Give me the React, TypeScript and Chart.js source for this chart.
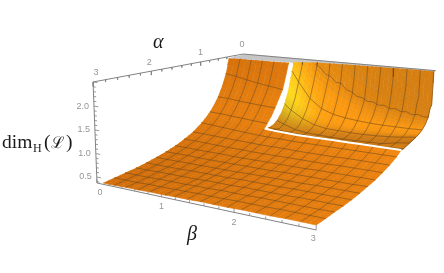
import React, { useEffect, useRef } from "react";
import { Chart, registerables } from "chart.js";

Chart.register(...registerables);

const zBottom = 0.37;
const zTop = 2.5;

const betaColumns = [0.1, 0.281, 0.4625, 0.644, 0.825, 1.05, 1.1875, 1.369, 1.55, 1.731, 1.912, 2.094, 2.275, 2.456, 2.638, 2.819, 3];
const frontAlphas = [1, 1.125, 1.3125, 1.5, 1.6875, 1.875, 2.0625, 2.25, 2.4375, 2.625, 2.8125, 3];
const frontZ = [
  [1.2, 1.18, 1.15, 1.13, 1.11, 1.09, 1.07, 1.06, 1.05, 1.05, 1.05, 1.05, 1.05, 1.05, 1.05, 1.05, 1.05],
  [1.07, 1.05, 1.03, 1.01, 0.99, 0.97, 0.96, 0.96, 0.95, 0.95, 0.95, 0.95, 0.95, 0.95, 0.95, 0.95, 0.95],
  [0.91, 0.9, 0.89, 0.88, 0.87, 0.86, 0.85, 0.85, 0.85, 0.84, 0.84, 0.84, 0.84, 0.85, 0.85, 0.85, 0.85],
  [0.8, 0.8, 0.79, 0.78, 0.77, 0.77, 0.76, 0.76, 0.76, 0.76, 0.76, 0.76, 0.76, 0.77, 0.77, 0.77, 0.77],
  [0.71, 0.71, 0.7, 0.7, 0.7, 0.69, 0.69, 0.69, 0.69, 0.69, 0.69, 0.69, 0.7, 0.7, 0.7, 0.7, 0.7],
  [0.64, 0.64, 0.64, 0.63, 0.63, 0.63, 0.63, 0.63, 0.63, 0.63, 0.64, 0.64, 0.64, 0.64, 0.64, 0.64, 0.65],
  [0.58, 0.58, 0.58, 0.58, 0.58, 0.58, 0.58, 0.58, 0.59, 0.59, 0.59, 0.59, 0.59, 0.6, 0.6, 0.6, 0.6],
  [0.53, 0.53, 0.53, 0.53, 0.54, 0.54, 0.54, 0.54, 0.55, 0.55, 0.55, 0.55, 0.56, 0.56, 0.56, 0.56, 0.56],
  [0.49, 0.49, 0.5, 0.5, 0.5, 0.5, 0.51, 0.51, 0.51, 0.52, 0.52, 0.52, 0.52, 0.53, 0.53, 0.53, 0.53],
  [0.46, 0.46, 0.46, 0.47, 0.47, 0.47, 0.48, 0.48, 0.49, 0.49, 0.49, 0.5, 0.5, 0.5, 0.5, 0.5, 0.51],
  [0.43, 0.43, 0.43, 0.44, 0.44, 0.45, 0.45, 0.46, 0.46, 0.46, 0.47, 0.47, 0.47, 0.48, 0.48, 0.48, 0.48],
  [0.4, 0.4, 0.41, 0.41, 0.42, 0.42, 0.43, 0.43, 0.44, 0.44, 0.44, 0.45, 0.45, 0.45, 0.46, 0.46, 0.46],
];
const frontMesh = [false, true, true, true, true, true, true, true, true, true, true, false];

const wallBetas = [0.1, 0.281, 0.4625, 0.644, 0.825, 1.05];
const wallAlphas = [0.375, 0.47, 0.5625, 0.65, 0.75, 0.84, 0.9375, 1];
const wallZ = [
  [3.2, 3.12, 2.98, 2.88, 2.8, 2.68],
  [2.55, 2.5, 2.43, 2.37, 2.32, 2.26],
  [2.13, 2.09, 2.03, 1.98, 1.94, 1.89],
  [1.85, 1.83, 1.79, 1.76, 1.73, 1.71],
  [1.6, 1.59, 1.56, 1.54, 1.52, 1.5],
  [1.43, 1.42, 1.39, 1.37, 1.35, 1.33],
  [1.28, 1.27, 1.25, 1.23, 1.21, 1.19],
  [1.2, 1.18, 1.15, 1.13, 1.11, 1.09],
];
const wallMesh = [true, false, true, false, true, false, true, false];

const backBetas = [1.08, 1.1875, 1.369, 1.55, 1.731, 1.912, 2.094, 2.275, 2.456, 2.638, 2.819, 3];
const backAlphas = [0.04, 0.06, 0.09, 0.14, 0.1875, 0.28, 0.375, 0.47, 0.5625, 0.65, 0.75, 0.85, 0.9375, 0.97];
const backZ = [
  [9, 8, 7, 6, 5.5, 5, 4.6, 4.2, 3.8, 3.4, 3.1, 2.9],
  [7, 6, 5, 4.5, 4, 3.7, 3.4, 3.2, 3, 2.8, 2.6, 2.5],
  [6, 5, 4, 3.6, 3.2, 2.95, 2.8, 2.5, 2.3, 2.1, 1.9, 1.75],
  [4.2, 3.8, 3.1, 2.75, 2.5, 2.25, 2.1, 2, 1.9, 1.82, 1.75, 1.68],
  [3.4, 3.05, 2.46, 2.2, 2.04, 1.83, 1.73, 1.66, 1.6, 1.56, 1.53, 1.5],
  [2.8, 2.45, 2.05, 1.82, 1.66, 1.55, 1.48, 1.43, 1.4, 1.37, 1.36, 1.36],
  [2.3, 2.05, 1.68, 1.47, 1.37, 1.32, 1.29, 1.27, 1.26, 1.26, 1.26, 1.27],
  [1.85, 1.66, 1.42, 1.28, 1.21, 1.18, 1.16, 1.15, 1.15, 1.16, 1.18, 1.21],
  [1.55, 1.42, 1.25, 1.14, 1.09, 1.08, 1.07, 1.07, 1.08, 1.1, 1.13, 1.17],
  [1.35, 1.25, 1.13, 1.06, 1.03, 1.02, 1.02, 1.02, 1.03, 1.05, 1.09, 1.14],
  [1.21, 1.14, 1.05, 1.01, 1, 0.99, 0.99, 0.99, 1, 1.01, 1.07, 1.11],
  [1.13, 1.07, 1.03, 1, 1, 1, 1, 1, 1.01, 1.03, 1.05, 1.08],
  [1.1, 1.08, 1.05, 1.04, 1.03, 1.03, 1.03, 1.03, 1.03, 1.03, 1.04, 1.05],
  [1.1, 1.09, 1.06, 1.05, 1.05, 1.05, 1.05, 1.05, 1.05, 1.05, 1.05, 1.06],
];
const backMesh = [false, false, false, false, false, false, true, false, true, false, true, false, true, false];

// the uneven mesh line at alpha = 0.1875, read point by point
const wavyAlpha = 0.1875;
const wavyBetas = [1.34, 1.42, 1.5, 1.58, 1.66, 1.74, 1.82, 1.9, 1.98, 2.06, 2.14, 2.22, 2.3, 2.38, 2.46, 2.54, 2.62, 2.7, 2.78, 2.86, 2.94, 3];
const wavyZ = [2.46, 2.38, 2.24, 2.2, 2.07, 2.06, 1.92, 1.88, 1.79, 1.77, 1.7, 1.7, 1.64, 1.65, 1.59, 1.6, 1.55, 1.56, 1.51, 1.53, 1.49, 1.5];

const clipBetas = [0.1, 1.05, 1.369, 1.731, 2.275, 3];
const clipAlphas = [0.48, 0.34, 0.2, 0.15, 0.1, 0.05];

const alphaTicks = [3, 2, 1, 0];
const betaTicks = [0, 1, 2, 3];
const zTicks = [0.5, 1, 1.5, 2];

// brightness of the rear sheet, read by eye for each row of backAlphas
const backLevels = [0.36, 0.36, 0.36, 0.36, 0.42, 0.72, 1, 0.85, 0.4, 0.18, 0.18, 0.25, 0.35, 0.35];

type P = { x: number; y: number };
type V = [number, number, number];
type C = [number, number, number];

function project(alpha: number, beta: number, z: number): P {
  const a = (3 - alpha) / 3;
  const b = beta / 3;
  const h = (z - zBottom) / (zTop - zBottom);
  const d = 1 + 0.263 * a - 0.165 * b - 0.023 * h;
  return {
    x: (97 + 210.4 * a + 167 * b - 6.1 * h) / d,
    y: (183 - 13.1 * a + 9 * b - 102.9 * h) / d,
  };
}

function clipPoly(vs: V[]): V[] {
  const out: V[] = [];
  for (let i = 0; i < vs.length; i++) {
    const p = vs[i];
    const q = vs[(i + 1) % vs.length];
    if (p[2] <= zTop) out.push(p);
    if (p[2] <= zTop !== q[2] <= zTop) {
      const t = (zTop - p[2]) / (q[2] - p[2]);
      out.push([p[0] + t * (q[0] - p[0]), p[1] + t * (q[1] - p[1]), zTop]);
    }
  }
  return out;
}

function clipLine(vs: V[]): V[] {
  const out: V[] = [];
  for (let i = 0; i < vs.length; i++) {
    const p = vs[i];
    if (p[2] <= zTop) out.push(p);
    const q = vs[i + 1];
    if (q && p[2] <= zTop !== q[2] <= zTop) {
      const t = (zTop - p[2]) / (q[2] - p[2]);
      out.push([p[0] + t * (q[0] - p[0]), p[1] + t * (q[1] - p[1]), zTop]);
    }
  }
  return out;
}

const clamp = (v: number) => Math.max(0, Math.min(1, v));

function shadeAt(kind: string, i: number, alpha: number, beta: number, sa: number): C {
  if (kind === "back") {
    let g = backLevels[i];
    const y = Math.exp(-Math.pow((beta - 1.12) / 0.33, 2)) * Math.exp(-Math.pow((alpha - 0.5) / 0.2, 2));
    const glow = Math.exp(-Math.pow((beta - 1.5) / 0.6, 2)) * Math.exp(-Math.pow((alpha - 0.4) / 0.25, 2));
    g = clamp(g + 0.5 * glow);
    return [192 + 60 * g + 3 * y, 113 + 40 * g + 68 * y, 20 - 4 * g + 12 * y];
  }
  const bump = Math.exp(-Math.pow(Math.log(Math.abs(sa) + 0.01) - Math.log(1.6), 2) / 1.4);
  const g = clamp(kind === "wall" ? 0.05 + 0.3 * (beta / 3) + 0.45 * bump : 0.08 + 0.5 * (beta / 3) + 0.4 * bump);
  return [204 + 46 * g, 106 + 36 * g, 10 + 8 * g];
}

function polyDataset(vs: V[], color: string) {
  return {
    data: vs.map((v) => project(v[0], v[1], v[2])),
    showLine: true,
    fill: "shape",
    backgroundColor: color,
    borderColor: color,
    borderWidth: 0.7,
    pointRadius: 0,
    tension: 0,
  };
}

function lineDataset(vs: V[], color: string, width: number) {
  return {
    data: vs.map((v) => project(v[0], v[1], v[2])),
    showLine: true,
    fill: false,
    borderColor: color,
    backgroundColor: color,
    borderWidth: width,
    pointRadius: 0,
    tension: 0,
  };
}

// Facets of one sheet; every table cell is drawn as a few facets so that its shading runs smoothly.
function surfaceCells(kind: string, alphas: number[], betas: number[], table: number[][], parts: number) {
  const n = alphas.length;
  const m = betas.length;
  const vertexColor: C[][] = [];
  for (let i = 0; i < n; i++) {
    vertexColor.push([]);
    for (let j = 0; j < m; j++) {
      const i0 = Math.max(0, i - 1);
      const i1 = Math.min(n - 1, i + 1);
      const sa = (table[i0][j] - table[i1][j]) / (alphas[i1] - alphas[i0]);
      vertexColor[i].push(shadeAt(kind, i, alphas[i], betas[j], sa));
    }
  }
  const out: any[] = [];
  const mix = (p: number, q: number, u: number) => p + (q - p) * u;
  for (let i = 0; i < n - 1; i++) {
    for (let j = 0; j < m - 1; j++) {
      for (let s = 0; s < parts; s++) {
        for (let t = 0; t < parts; t++) {
          const vert = (u: number, w: number): V => [
            mix(alphas[i], alphas[i + 1], u),
            mix(betas[j], betas[j + 1], w),
            mix(mix(table[i][j], table[i][j + 1], w), mix(table[i + 1][j], table[i + 1][j + 1], w), u),
          ];
          const u0 = s / parts;
          const u1 = (s + 1) / parts;
          const w0 = t / parts;
          const w1 = (t + 1) / parts;
          const poly = clipPoly([vert(u0, w0), vert(u0, w1), vert(u1, w1), vert(u1, w0)]);
          if (poly.length < 3) continue;
          const um = (u0 + u1) / 2;
          const wm = (w0 + w1) / 2;
          const c = [0, 1, 2].map((k) =>
            Math.round(mix(mix(vertexColor[i][j][k], vertexColor[i][j + 1][k], wm), mix(vertexColor[i + 1][j][k], vertexColor[i + 1][j + 1][k], wm), um))
          );
          out.push(polyDataset(poly, `rgb(${c[0]},${c[1]},${c[2]})`));
        }
      }
    }
  }
  return out;
}

const meshColor = "rgba(100,68,26,0.62)";

function meshLines(alphas: number[], betas: number[], table: number[][], rows: boolean[], skipCols: number[]) {
  const out: any[] = [];
  alphas.forEach((al, i) => {
    if (!rows[i]) return;
    const pts = clipLine(betas.map((be, j) => [al, be, table[i][j]] as V));
    if (pts.length > 1) out.push(lineDataset(pts, meshColor, 0.85));
  });
  betas.forEach((be, j) => {
    if (skipCols.includes(j)) return;
    const pts = clipLine(alphas.map((al, i) => [al, be, table[i][j]] as V));
    if (pts.length > 1) out.push(lineDataset(pts, meshColor, 0.85));
  });
  return out;
}

function wavyLine() {
  return [lineDataset(wavyBetas.map((be, i) => [wavyAlpha, be, wavyZ[i]] as V), meshColor, 0.85)];
}

function frame() {
  const axisColor = "rgb(130,130,130)";
  const out: any[] = [];
  out.push(lineDataset([[3, 0, zBottom], [3, 0, zTop]], axisColor, 1));
  out.push(lineDataset([[3, 0, zTop], [0, 0, zTop]], axisColor, 1));
  out.push(lineDataset([[3, 0, zBottom], [3, 3, zBottom]], axisColor, 1));
  for (let k = 0; k <= 15; k++) {
    const major = k % 5 === 0;
    const v = k / 5;
    out.push(lineDataset([[3 - v, 0, zTop], [3 - v, 0, zTop - (major ? 0.09 : 0.05)]], axisColor, 0.8));
    out.push(lineDataset([[3, v, zBottom], [3, v, zBottom + (major ? 0.09 : 0.05)]], axisColor, 0.8));
  }
  for (let k = 4; k <= 25; k++) {
    const major = k % 5 === 0;
    out.push(lineDataset([[3, 0, k / 10], [3, major ? 0.07 : 0.04, k / 10]], axisColor, 0.8));
  }
  return out;
}

function topPlane() {
  const verts: V[] = [[0, 0.02, zTop], [0, 3, zTop]];
  for (let i = clipBetas.length - 1; i >= 0; i--) verts.push([clipAlphas[i], clipBetas[i], zTop]);
  return [
    polyDataset(verts, "rgb(198,198,198)"),
    lineDataset([[0, 0, zTop], [0, 3, zTop]], "rgb(130,130,130)", 1),
  ];
}

function gapLines() {
  const front = betaColumns.slice(5).map((be, j) => [1, be, frontZ[0][j + 5]] as V);
  return [lineDataset(front, "#ffffff", 2)];
}

const textPlugin = {
  id: "axisText",
  afterDraw(chart: any) {
    const ctx = chart.ctx;
    const sx = chart.scales.x;
    const sy = chart.scales.y;
    const at = (p: P, dx: number, dy: number) => [sx.getPixelForValue(p.x) + dx, sy.getPixelForValue(p.y) + dy];
    ctx.save();
    ctx.textBaseline = "middle";
    ctx.fillStyle = "rgb(150,150,150)";
    ctx.font = "9px 'Liberation Sans'";
    ctx.textAlign = "center";
    const aOff = [[3, -9], [-2, -9], [0, -9], [-1, -10]];
    alphaTicks.forEach((t, i) => {
      const [x, y] = at(project(t, 0, zTop), aOff[i][0], aOff[i][1]);
      ctx.fillText(String(t), x, y);
    });
    const bOff = [[3, 10], [0, 10], [0, 10], [-3, 9]];
    betaTicks.forEach((t, i) => {
      const [x, y] = at(project(3, t, zBottom), bOff[i][0], bOff[i][1]);
      ctx.fillText(String(t), x, y);
    });
    ctx.textAlign = "right";
    zTicks.forEach((t) => {
      const [x, y] = at(project(3, 0, t), -5, 0);
      ctx.fillText(t.toFixed(1), x, y);
    });
    ctx.fillStyle = "#1a1a1a";
    ctx.textBaseline = "alphabetic";
    ctx.textAlign = "left";
    ctx.font = "italic 20px 'Liberation Serif'";
    ctx.fillText("α", 153, 48);
    ctx.fillText("β", 187, 240);
    ctx.font = "19.5px 'Liberation Serif'";
    ctx.fillText("dim", 2, 148);
    ctx.font = "12px 'Liberation Serif'";
    ctx.fillText("H", 33, 152);
    ctx.font = "19.5px 'Liberation Serif'";
    ctx.fillText("(", 44, 148);
    ctx.font = "16px 'DejaVu Serif'";
    ctx.fillText("ℒ", 51, 148);
    ctx.font = "19.5px 'Liberation Serif'";
    ctx.fillText(")", 66, 148);
    ctx.restore();
  },
};

export default function App() {
  const ref = useRef<HTMLCanvasElement>(null);
  useEffect(() => {
    document.body.style.margin = "0";
    const painted: any[] = [
      ...frame(),
      ...topPlane(),
      ...surfaceCells("back", backAlphas, backBetas, backZ, 3),
      ...meshLines(backAlphas, backBetas, backZ, backMesh, [0]),
      ...wavyLine(),
      ...surfaceCells("wall", wallAlphas, wallBetas, wallZ, 2),
      ...meshLines(wallAlphas, wallBetas, wallZ, wallMesh, [0, 5]),
      ...surfaceCells("front", frontAlphas, betaColumns, frontZ, 2),
      ...meshLines(frontAlphas, betaColumns, frontZ, frontMesh, [0, 16]),
      ...gapLines(),
    ];
    const chart = new Chart(ref.current as HTMLCanvasElement, {
      type: "scatter",
      data: { datasets: painted.reverse() },
      options: {
        responsive: false,
        animation: false,
        events: [],
        layout: { padding: 0 },
        plugins: { legend: { display: false }, tooltip: { enabled: false } },
        scales: {
          x: { type: "linear", display: false, min: 0, max: 444 },
          y: { type: "linear", display: false, min: 0, max: 273, reverse: true },
        },
      },
      plugins: [textPlugin],
    } as any);
    return () => chart.destroy();
  }, []);
  return (
    <div style={{ width: 444, height: 273 }}>
      <canvas ref={ref} width={444} height={273} style={{ display: "block" }} />
    </div>
  );
}
